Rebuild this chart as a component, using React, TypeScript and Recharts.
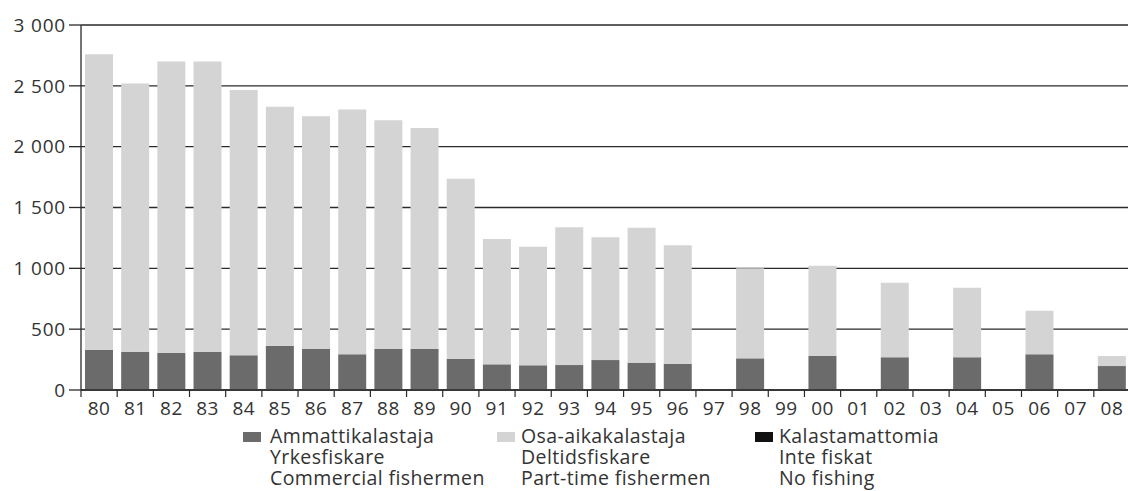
import React from 'react';
import { BarChart, Bar, XAxis, YAxis, CartesianGrid, Legend } from 'recharts';

const years = ['80','81','82','83','84','85','86','87','88','89','90','91','92','93','94','95','96','97','98','99','00','01','02','03','04','05','06','07','08'];
const commercial = [330,315,307,312,285,364,337,293,337,337,255,211,203,205,246,225,216,null,260,null,282,null,269,null,269,null,293,null,197];
const partTime = [2430,2205,2393,2388,2180,1964,1914,2013,1881,1816,1481,1030,975,1132,1009,1109,973,null,740,null,739,null,613,null,572,null,359,null,82];
const noFishing = [0,0,0,0,0,0,0,0,0,0,0,0,0,0,0,0,0,0,0,0,0,0,0,0,0,0,0,0,0];
const yTicks = [0,500,1000,1500,2000,2500,3000];
const seriesKeys = ['commercial', 'partTime', 'noFishing'];
const legendLabels = [
  ['Ammattikalastaja','Yrkesfiskare','Commercial fishermen'],
  ['Osa-aikakalastaja','Deltidsfiskare','Part-time fishermen'],
  ['Kalastamattomia','Inte fiskat','No fishing'],
];

const data = years.map((y, i) => ({ year: y, commercial: commercial[i], partTime: partTime[i], noFishing: noFishing[i] }));

const FONT = '"Open Sans", "Noto Sans", sans-serif';
const TEXT = '#333';
const LINE = '#2a2a2a';
const CHART_W = 1140;
const PLOT_LEFT = 81;
const PLOT_RIGHT = 1130;
const HALF_BAND = (PLOT_RIGHT - PLOT_LEFT) / years.length / 2;

const fmt = (v: number) => (v >= 1000 ? `${Math.floor(v / 1000)} ${String(v % 1000).padStart(3, '0')}` : String(v));

const XTick = (props: any) => {
  const { x, y, payload } = props;
  return (
    <g>
      <line x1={x - HALF_BAND} x2={x - HALF_BAND} y1={y} y2={y + 7} stroke={LINE} strokeWidth={1.2} />
      <text x={x} y={y + 25} textAnchor="middle" fill={TEXT} fontSize={19} fontFamily={FONT} letterSpacing={0.5}>{payload.value}</text>
    </g>
  );
};

const legendLefts = [243, 497, 755];
const LINE_H = 21;

const renderLegend = (props: any) => {
  const payload = props.payload || [];
  return (
    <div style={{ position: 'relative', width: 1128, height: 64, fontFamily: FONT, fontSize: 19.5, letterSpacing: 0.4, color: TEXT }}>
      {seriesKeys.map((key, i) => {
        const entry = payload.find((p: any) => p.dataKey === key);
        const color = entry ? entry.color : '#000';
        return (
          <div key={key} style={{ position: 'absolute', left: legendLefts[i], top: 0 }}>
            <div style={{ position: 'absolute', left: 0, top: 7, width: 18, height: 10, background: color }} />
            <div style={{ position: 'absolute', left: i === 0 ? 27 : 24, top: 0, lineHeight: `${LINE_H}px`, whiteSpace: 'pre' }}>
              {legendLabels[i].join('\n')}
            </div>
          </div>
        );
      })}
    </div>
  );
};

export default function App() {
  return (
    <div style={{ position: 'absolute', left: 0, top: 0, width: 1128, height: 491, overflow: 'hidden', background: '#fff' }}>
      <BarChart width={CHART_W} height={491} data={data} margin={{ top: 25, right: CHART_W - PLOT_RIGHT, bottom: 71, left: 0 }}>
        <CartesianGrid vertical={false} stroke={LINE} strokeWidth={1.3} strokeOpacity={1} />
        <XAxis dataKey="year" height={30} tickSize={0} tickMargin={0} tickLine={false} axisLine={{ stroke: LINE, strokeWidth: 1.3 }} tick={<XTick />} interval={0} />
        <YAxis width={PLOT_LEFT} domain={[0, 3000]} ticks={yTicks} tickSize={12} tickMargin={3} tickFormatter={fmt}
          axisLine={{ stroke: LINE, strokeWidth: 1.3 }} tickLine={{ stroke: LINE, strokeWidth: 1.3 }}
          tick={{ fill: TEXT, fontSize: 19, fontFamily: FONT, letterSpacing: 0.8 }} interval={0} />
        <Legend layout="vertical" verticalAlign="middle" align="center" content={renderLegend}
          wrapperStyle={{ top: 425, left: 0, width: 1128, height: 64 }} />
        <Bar dataKey="commercial" name="Ammattikalastaja" stackId="a" fill="#6b6b6b" barSize={28} isAnimationActive={false} />
        <Bar dataKey="partTime" name="Osa-aikakalastaja" stackId="a" fill="#d4d4d4" barSize={28} isAnimationActive={false} />
        <Bar dataKey="noFishing" name="Kalastamattomia" stackId="a" fill="#111111" barSize={28} isAnimationActive={false} />
      </BarChart>
    </div>
  );
}
